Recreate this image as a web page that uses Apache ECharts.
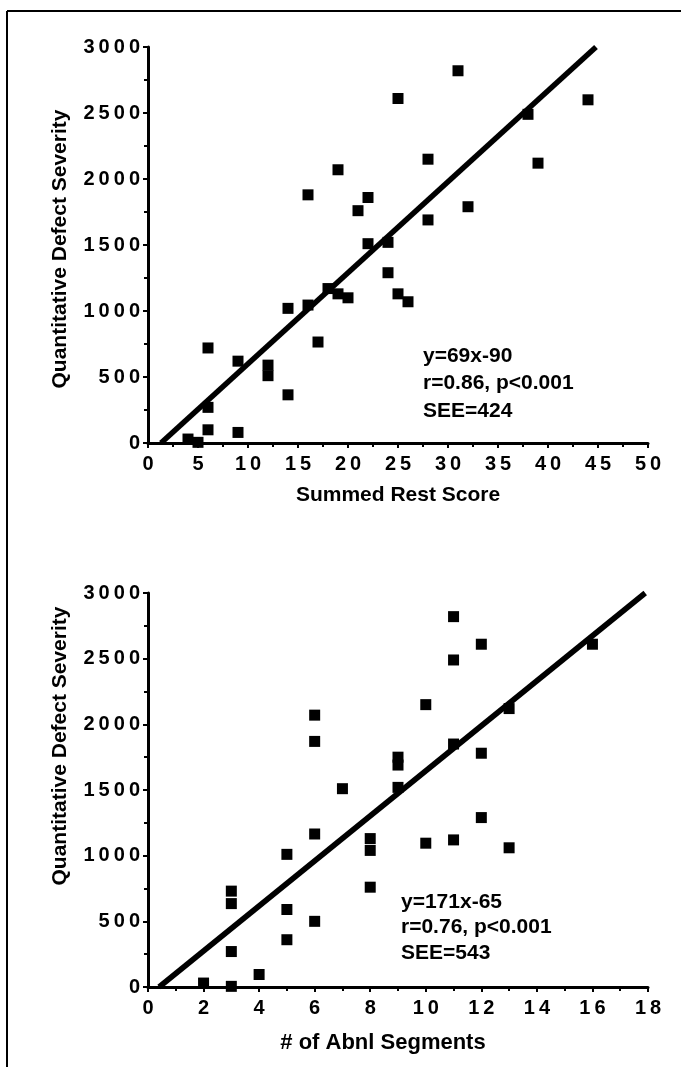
<!DOCTYPE html>
<html>
<head>
<meta charset="utf-8">
<script src="https://cdn.jsdelivr.net/npm/echarts@6/dist/echarts.min.js"></script>
<style>
  html, body { margin: 0; padding: 0; background: #fff; }
  #main { width: 681px; height: 1067px; }
</style>
</head>
<body>
<div id="main"></div>
<script>
// top panel: summed rest score vs severity
var restScore    = [25, 19, 16, 22, 21, 22, 24, 24, 25, 26, 18, 19, 20, 16, 14, 17, 6, 9, 12, 12, 14, 6, 6, 9, 4, 5, 31, 44, 38, 28, 39, 32, 28];
var restSeverity = [2610, 2070, 1880, 1860, 1760, 1510, 1520, 1290, 1130, 1070, 1170, 1130, 1100, 1045, 1020, 765, 720, 620, 590, 510, 365, 270, 100, 80, 30, 5, 2820, 2600, 2490, 2150, 2120, 1790, 1690];
var restFit = [[1.3, 0], [44.8, 3000]];

// bottom panel: # of abnormal segments vs severity
var segCount    = [6, 6, 7, 9, 9, 9, 6, 8, 8, 5, 8, 3, 3, 5, 6, 5, 3, 4, 2, 3, 11, 12, 11, 16, 10, 13, 11, 12, 12, 10, 11, 13];
var segSeverity = [2070, 1870, 1510, 1750, 1690, 1520, 1165, 1130, 1040, 1010, 760, 730, 635, 590, 500, 360, 270, 95, 30, 5, 2820, 2610, 2490, 2610, 2150, 2120, 1850, 1780, 1290, 1095, 1120, 1060];
var segFit = [[0.4, 0], [17.9, 3000]];

var yTicks = [0, 500, 1000, 1500, 2000, 2500, 3000];
var restNote = ['y=69x-90', 'r=0.86, p<0.001', 'SEE=424'];
var segNote  = ['y=171x-65', 'r=0.76, p<0.001', 'SEE=543'];

var font = 'Liberation Sans, Arial, sans-serif';

function pairs(xs, ys) {
    var out = [];
    for (var i = 0; i < xs.length; i++) out.push([xs[i], ys[i]]);
    return out;
}
function spaced(v) {
    return String(v).split('').join('\u2009');
}

function valueAxis(idx, min, max, interval, extra) {
    var ax = {
        type: 'value',
        gridIndex: idx,
        min: min,
        max: max,
        interval: interval,
        splitLine: { show: false },
        axisLine: { show: true, onZero: false, lineStyle: { color: '#000', width: 3 } },
        axisTick: { show: true, inside: false, length: 5, lineStyle: { color: '#000', width: 2 } },
        minorTick: { show: true, splitNumber: 2, length: 4, lineStyle: { color: '#000', width: 2 } },
        axisLabel: { color: '#000', fontFamily: font, fontWeight: 'bold', fontSize: 20, formatter: spaced }
    };
    for (var k in extra) ax[k] = extra[k];
    return ax;
}

var labelX = { color: '#000', fontFamily: font, fontWeight: 'bold', fontSize: 20, margin: 11, formatter: spaced };
var nameStyle = { color: '#000', fontFamily: font, fontWeight: 'bold', fontSize: 21 };

var myChart = echarts.init(document.getElementById('main'));
myChart.setOption({
    backgroundColor: '#fff',
    animation: false,
    grid: [
        { left: 148, top: 47, width: 500, height: 396 },
        { left: 148, top: 593, width: 500, height: 394 }
    ],
    xAxis: [
        valueAxis(0, 0, 50, 5, {
            axisLabel: labelX,
            name: 'Summed Rest Score', nameLocation: 'middle', nameGap: 42,
            nameTextStyle: nameStyle
        }),
        valueAxis(1, 0, 18, 2, {
            axisLabel: labelX,
            name: '# of Abnl Segments', nameLocation: 'middle', nameGap: 45,
            nameTextStyle: { color: '#000', fontFamily: font, fontWeight: 'bold', fontSize: 22, padding: [0, 30, 0, 0] }
        })
    ],
    yAxis: [
        valueAxis(0, yTicks[0], yTicks[yTicks.length - 1], yTicks[1] - yTicks[0], {}),
        valueAxis(1, yTicks[0], yTicks[yTicks.length - 1], yTicks[1] - yTicks[0], {})
    ],
    series: [
        {
            type: 'scatter', xAxisIndex: 0, yAxisIndex: 0,
            symbol: 'rect', symbolSize: 11,
            itemStyle: { color: '#000', opacity: 1 },
            data: pairs(restScore, restSeverity)
        },
        {
            type: 'line', xAxisIndex: 0, yAxisIndex: 0,
            showSymbol: false, lineStyle: { color: '#000', width: 5.5 },
            data: restFit
        },
        {
            type: 'scatter', xAxisIndex: 1, yAxisIndex: 1,
            symbol: 'rect', symbolSize: 11,
            itemStyle: { color: '#000', opacity: 1 },
            data: pairs(segCount, segSeverity)
        },
        {
            type: 'line', xAxisIndex: 1, yAxisIndex: 1,
            showSymbol: false, lineStyle: { color: '#000', width: 5.5 },
            data: segFit
        }
    ],
    graphic: [
        // scan frame
        { type: 'line', shape: { x1: 7, y1: 11, x2: 681, y2: 11 }, style: { stroke: '#000', lineWidth: 2 } },
        { type: 'line', shape: { x1: 7, y1: 11, x2: 7, y2: 1067 }, style: { stroke: '#000', lineWidth: 2 } },
        // y titles
        {
            type: 'text', x: 60, y: 249, rotation: Math.PI / 2,
            style: { text: 'Quantitative Defect Severity', fill: '#000', font: 'bold 21px ' + font, textAlign: 'center', textVerticalAlign: 'middle' }
        },
        {
            type: 'text', x: 60, y: 746, rotation: Math.PI / 2,
            style: { text: 'Quantitative Defect Severity', fill: '#000', font: 'bold 21px ' + font, textAlign: 'center', textVerticalAlign: 'middle' }
        },
        // fit notes
        {
            type: 'text', x: 423, y: 342,
            style: { text: restNote.join('\n'), fill: '#000', font: 'bold 21px ' + font, lineHeight: 27.5 }
        },
        {
            type: 'text', x: 401, y: 889,
            style: { text: segNote.join('\n'), fill: '#000', font: 'bold 21px ' + font, lineHeight: 25.5 }
        }
    ]
});
</script>
</body>
</html>
